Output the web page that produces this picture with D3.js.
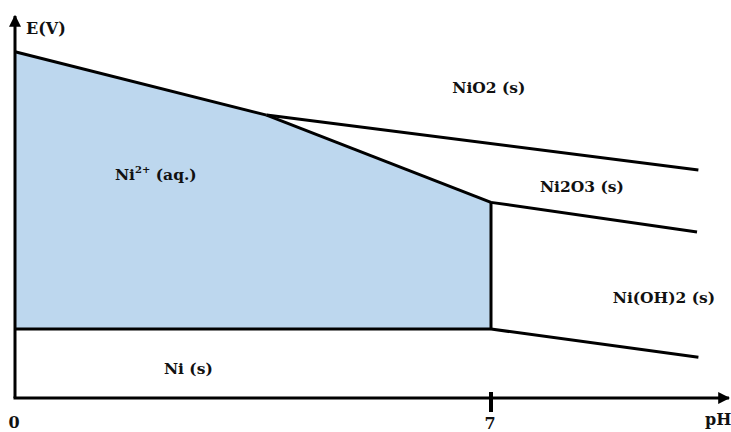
<!DOCTYPE html>
<html lang="en">
<head>
    <meta charset="UTF-8">
    <title>Ni Pourbaix</title>
    <script src="https://cdn.jsdelivr.net/npm/d3@7"></script>
    <style>
        body{margin:0;background:#fff;}
        text{font-family:"DejaVu Serif",serif;font-weight:bold;fill:#111;}
    </style>
</head>
<body>
<script>
    // boundaries (pH, E in V)
    var fillPH=[0,3.7,7,7,0];
    var fillE=[1.76,1.31,0.69,-0.21,-0.21];

    var lines=[
        {ph:[0,3.7],e:[1.76,1.31]},
        {ph:[3.7,10.05],e:[1.31,0.92]},
        {ph:[3.7,7],e:[1.31,0.69]},
        {ph:[7,10.03],e:[0.69,0.48]},
        {ph:[7,7],e:[0.69,-0.21]},
        {ph:[0,7],e:[-0.21,-0.21]},
        {ph:[7,10.05],e:[-0.21,-0.41]}
    ];

    var labelText=["NiO2 (s)","Ni","Ni2O3 (s)","Ni(OH)2 (s)","Ni (s)"];
    var labelPH=[6.43,1.47,7.72,8.79,2.19];
    var labelE=[1.467,0.849,0.764,-0.025,-0.529];

    var tickPH=[0,7];

    var width=731,height=432;
    var svg=d3.select("body").append("svg").attr("width",width).attr("height",height);

    var x=d3.scaleLinear().domain([0,7]).range([15,491]);
    var y=d3.scaleLinear().domain([-0.7,2.0]).range([398,18]);

    var defs=svg.append("defs");
    defs.append("marker").attr("id","arr").attr("viewBox","0 0 10 10")
        .attr("refX",9).attr("refY",5).attr("markerWidth",4).attr("markerHeight",4)
        .attr("markerUnits","strokeWidth").attr("orient","auto")
        .append("path").attr("d","M0,0L10,5L0,10z").attr("fill","#000");

    // Ni2+ domain
    svg.append("path")
        .attr("d",d3.line()(fillPH.map(function(p,i){return [x(p),y(fillE[i])];}))+"Z")
        .attr("fill","#bdd7ee");

    svg.selectAll(".bd").data(lines).enter().append("path")
        .attr("class","bd")
        .attr("d",function(l){return d3.line()(l.ph.map(function(p,i){return [x(p),y(l.e[i])];}));})
        .attr("stroke","#000").attr("stroke-width",3).attr("fill","none");

    // axes
    svg.append("line").attr("x1",x(0)).attr("y1",y(-0.7)).attr("x2",x(0)).attr("y2",16)
        .attr("stroke","#000").attr("stroke-width",3).attr("marker-end","url(#arr)");
    svg.append("line").attr("x1",x(0)-1.5).attr("y1",y(-0.7)).attr("x2",729).attr("y2",y(-0.7))
        .attr("stroke","#000").attr("stroke-width",3).attr("marker-end","url(#arr)");
    svg.append("line").attr("x1",x(7)).attr("x2",x(7)).attr("y1",392).attr("y2",412)
        .attr("stroke","#000").attr("stroke-width",4);

    svg.selectAll(".tk").data(tickPH).enter().append("text")
        .attr("x",function(d){return x(d)-1;})
        .attr("y",function(d){return d===0?428:429;})
        .attr("text-anchor","middle").attr("font-size",16).text(function(d){return d;});

    svg.append("text").attr("x",705).attr("y",425).attr("font-size",16).text("pH");
    svg.append("text").attr("x",26).attr("y",34).attr("font-size",16).text("E(V)");

    var lab=svg.selectAll(".lab").data(labelText).enter().append("text")
        .attr("class","lab")
        .attr("x",function(d,i){return x(labelPH[i]);})
        .attr("y",function(d,i){return y(labelE[i]);})
        .attr("font-size",15.5);
    lab.each(function(d,i){
        var t=d3.select(this);
        if(i===1){
            t.append("tspan").text("Ni");
            t.append("tspan").attr("dy",-7).attr("font-size",10).text("2+");
            t.append("tspan").attr("dy",7).text(" (aq.)");
        }else{
            t.text(d);
        }
    });
</script>
</body>
</html>
